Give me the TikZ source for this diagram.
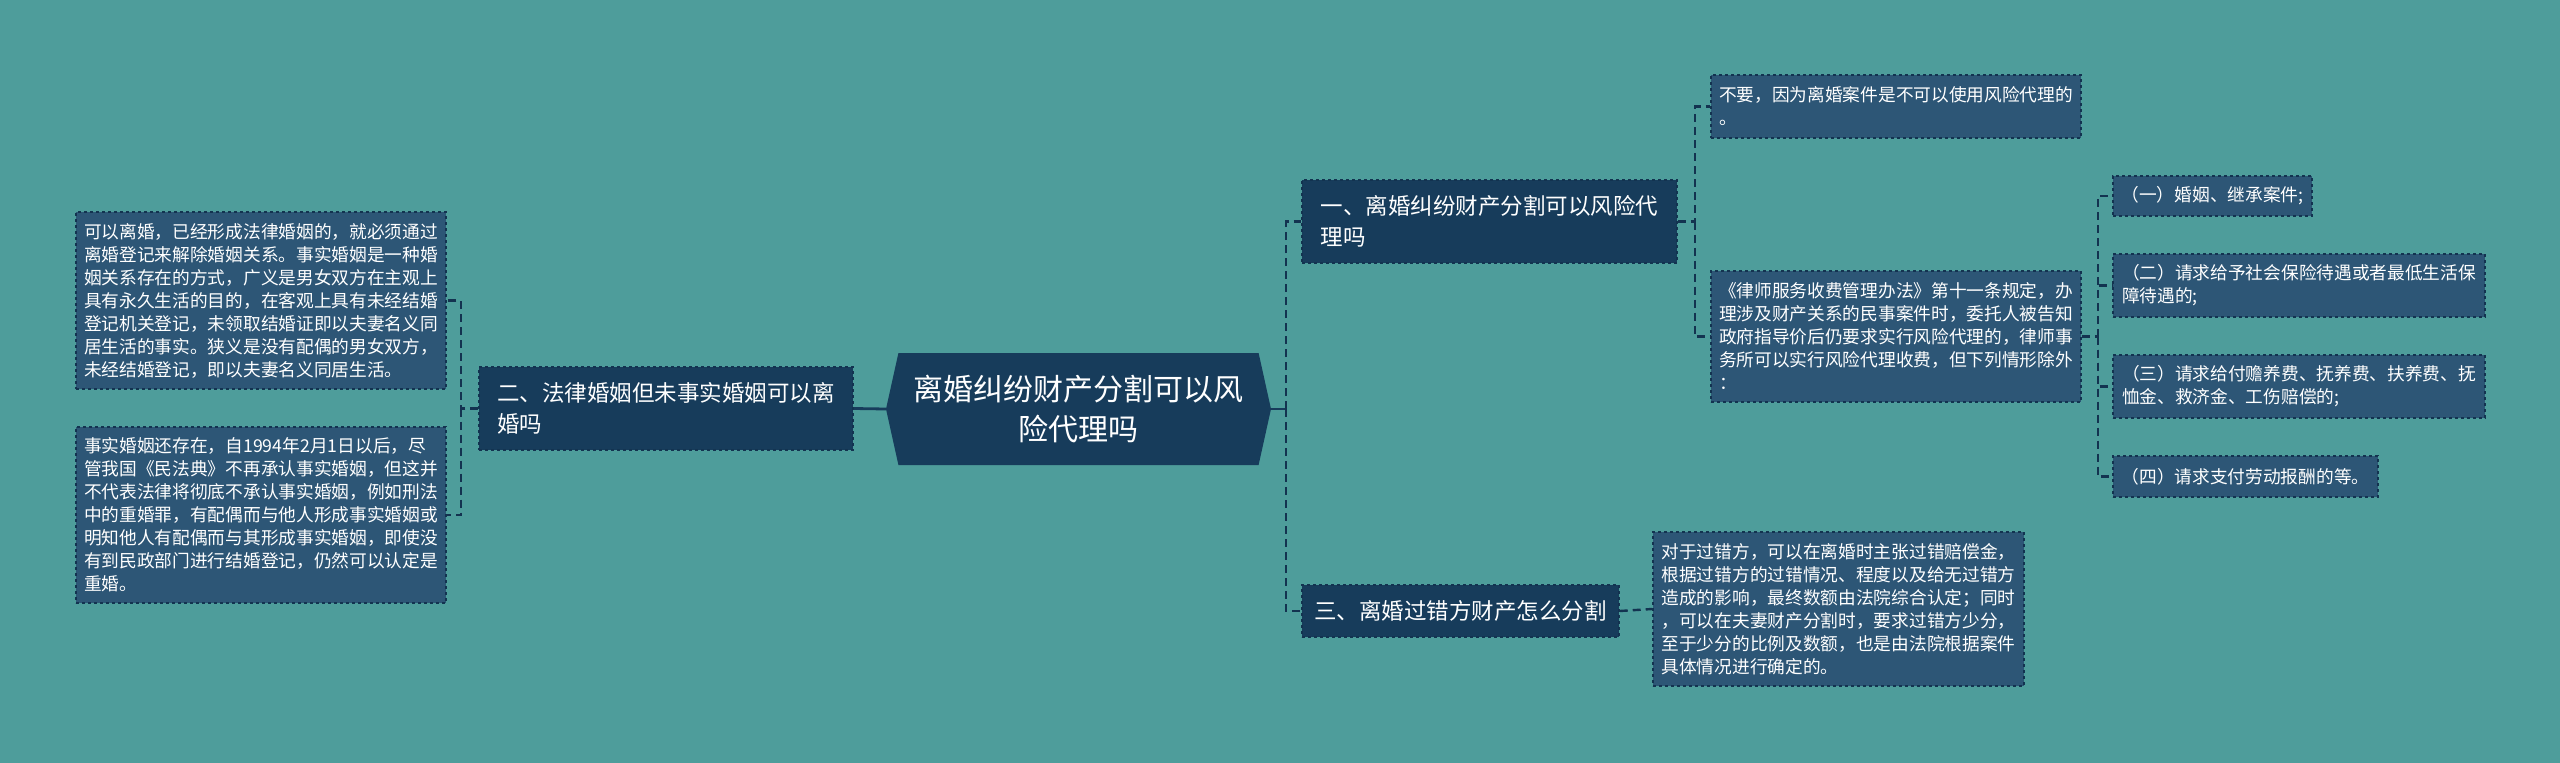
\documentclass[tikz,border=0pt]{standalone}
\usepackage{fontspec}
\setmainfont{Noto Sans CJK SC}
\usepackage{xcolor}
\usetikzlibrary{shapes.symbols}
\definecolor{bgteal}{HTML}{4E9D9B}
\definecolor{rootblue}{HTML}{173C5B}
\definecolor{leafblue}{HTML}{2D5676}
\definecolor{edgeblue}{HTML}{133350}

\begin{document}
\begin{tikzpicture}[x=1pt, y=-1pt,
    root/.style={signal, signal to=west and east, signal pointer angle=155,
      fill=rootblue, text=white, align=center, inner sep=0pt,
      font=\fontsize{30}{40}\selectfont},
    topic/.style={fill=rootblue, draw=edgeblue, dashed, line width=1.5pt,
      text=white, align=left, inner sep=0pt,
      font=\fontsize{22.5}{31}\selectfont},
    leaf/.style={fill=leafblue, draw=edgeblue, dashed, line width=1.5pt,
      text=white, align=left, inner sep=0pt,
      font=\fontsize{17.7}{23}\selectfont},
    link/.style={draw=edgeblue, line width=2.4pt, dash pattern=on 8pt off 5pt},
    trunk/.style={draw=rootblue, line width=2.8pt}]
        % Background
        \fill[bgteal] (0,0) rectangle (2560,763);

        % Centre
        \node[root, minimum width=385, minimum height=112] (root) at (1078.5,409)
          {离婚纠纷财产分割可以风\\险代理吗};

        % Left branch
        \node[topic, minimum width=374, minimum height=83] (l1) at (666,408.5)
          {二、法律婚姻但未事实婚姻可以离\\婚吗};
        \node[leaf, minimum width=370, minimum height=177] (la) at (261,300.5)
          {可以离婚，已经形成法律婚姻的，就必须通过\\
           离婚登记来解除婚姻关系。事实婚姻是一种婚\\
           姻关系存在的方式，广义是男女双方在主观上\\
           具有永久生活的目的，在客观上具有未经结婚\\
           登记机关登记，未领取结婚证即以夫妻名义同\\
           居生活的事实。狭义是没有配偶的男女双方，\\
           未经结婚登记，即以夫妻名义同居生活。};
        \node[leaf, minimum width=370, minimum height=176] (lb) at (261,515)
          {事实婚姻还存在，自1994年2月1日以后，尽\\
           管我国《民法典》不再承认事实婚姻，但这并\\
           不代表法律将彻底不承认事实婚姻，例如刑法\\
           中的重婚罪，有配偶而与他人形成事实婚姻或\\
           明知他人有配偶而与其形成事实婚姻，即使没\\
           有到民政部门进行结婚登记，仍然可以认定是\\
           重婚。};

        % Right branch, first topic
        \node[topic, minimum width=375, minimum height=83] (r1) at (1489.5,221.5)
          {一、离婚纠纷财产分割可以风险代\\理吗};
        \node[leaf, minimum width=370, minimum height=63] (r1a) at (1896,106.5)
          {不要，因为离婚案件是不可以使用风险代理的\\。};
        \node[leaf, minimum width=370, minimum height=131] (r1b) at (1896,336.5)
          {《律师服务收费管理办法》第十一条规定，办\\
           理涉及财产关系的民事案件时，委托人被告知\\
           政府指导价后仍要求实行风险代理的，律师事\\
           务所可以实行风险代理收费，但下列情形除外\\
           ：};
        \node[leaf, minimum width=199, minimum height=40] (c1) at (2212.5,196)
          {（一）婚姻、继承案件;};
        \node[leaf, minimum width=372, minimum height=63] (c2) at (2299,285.5)
          {（二）请求给予社会保险待遇或者最低生活保\\障待遇的;};
        \node[leaf, minimum width=372, minimum height=63] (c3) at (2299,386.5)
          {（三）请求给付赡养费、抚养费、扶养费、抚\\恤金、救济金、工伤赔偿的;};
        \node[leaf, minimum width=265, minimum height=41] (c4) at (2245.5,476.5)
          {（四）请求支付劳动报酬的等。};

        % Right branch, third topic
        \node[topic, minimum width=317, minimum height=52] (r3) at (1460.5,611)
          {三、离婚过错方财产怎么分割};
        \node[leaf, minimum width=371, minimum height=154] (r3a) at (1838.5,609)
          {对于过错方，可以在离婚时主张过错赔偿金，\\
           根据过错方的过错情况、程度以及给无过错方\\
           造成的影响，最终数额由法院综合认定；同时\\
           ，可以在夫妻财产分割时，要求过错方少分，\\
           至于少分的比例及数额，也是由法院根据案件\\
           具体情况进行确定的。};

        % Connectors
        \draw[trunk] (root.west) -- (l1.east);
        \draw[link] (l1.west) -- ++(-17,0) coordinate (lj) |- (la.east);
        \draw[link] (lj) |- (lb.east);

        \draw[trunk] (root.east) -- ++(15,0) coordinate (rj);
        \draw[link] (rj) |- (r1.west);
        \draw[link] (rj) |- (r3.west);

        \draw[link] (r1.east) -- ++(17,0) coordinate (r1j) |- (r1a.west);
        \draw[link] (r1j) |- (r1b.west);
        \draw[link] (r1b.east) -- ++(16,0) coordinate (r1bj);
        \foreach \c in {c1,c2,c3,c4}
          \draw[link] (r1bj) |- (\c.west);

        \draw[link] (r3.east) -- (r3a.west);
      \end{tikzpicture}
\end{document}
